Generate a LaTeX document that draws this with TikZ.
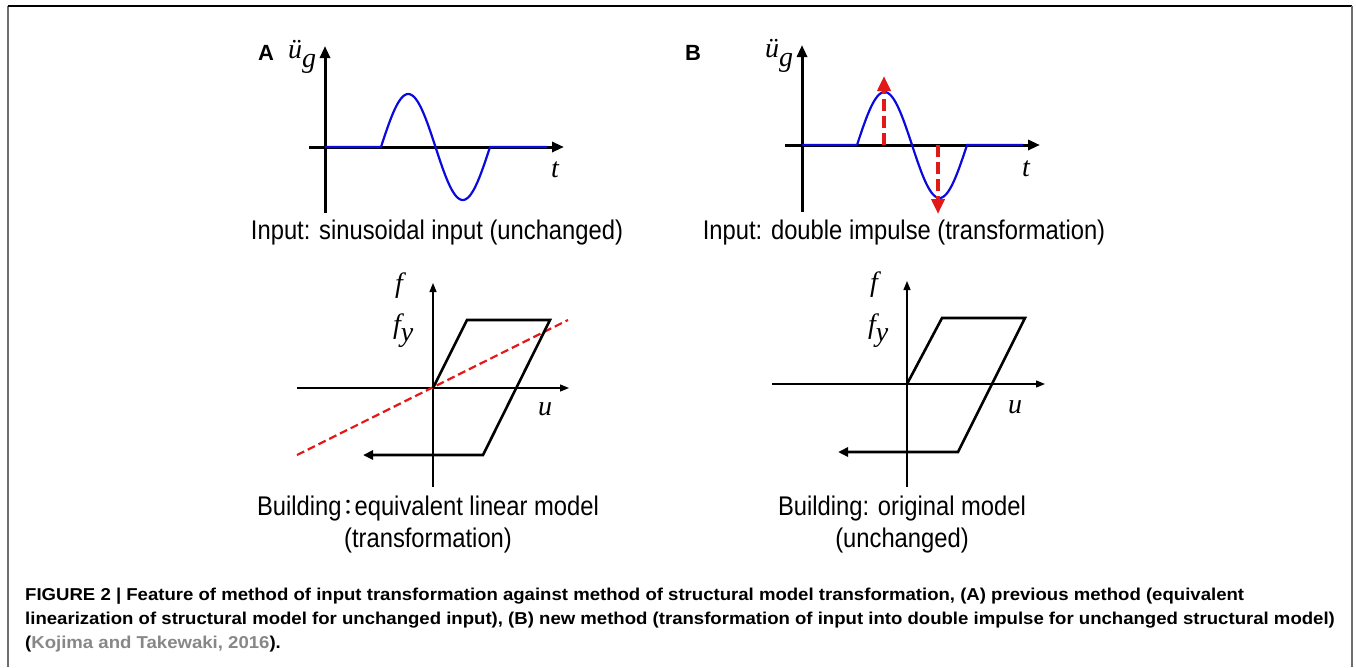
\documentclass[tikz,border=0pt]{standalone}
\usepackage{fontspec}
\setmainfont{Liberation Sans}
\newfontfamily\narrowfont[FakeStretch=0.88]{Liberation Sans}
\newfontfamily\capfont[FakeStretch=1.08]{Liberation Sans}
\newfontfamily\timesfont{Liberation Serif}
\newfontfamily\cjkfont{Noto Sans CJK JP}
\usepackage{tikz}
\usetikzlibrary{arrows.meta, positioning, calc}
\definecolor{waveblue}{RGB}{10,10,220}
\definecolor{impred}{RGB}{225,25,25}
\definecolor{citegray}{RGB}{135,135,135}
\definecolor{framegray}{RGB}{110,110,110}
\tikzstyle{axis} = [line width=3pt, -{Triangle[length=12pt, width=10pt]}]
\tikzstyle{faxis} = [line width=1.3pt, -{Triangle[length=9pt, width=7pt]}]
\tikzstyle{wave} = [line width=2.2pt, draw=waveblue]
\tikzstyle{impulse} = [line width=4.5pt, draw=impred, dash pattern=on 12pt off 5pt,
    -{Triangle[length=15pt, width=13pt, fill=impred]}]
\tikzstyle{loopline} = [line width=2.6pt, line join=miter, -{Triangle[length=10pt, width=9pt]}]
\tikzstyle{eqline} = [line width=2.2pt, draw=impred, dash pattern=on 8pt off 4pt]
\tikzstyle{plabel} = [anchor=base, inner sep=0pt, align=center,
    font=\narrowfont\fontsize{27}{32}\selectfont]
\tikzstyle{sym} = [anchor=base west, inner sep=0pt, font=\timesfont\itshape\fontsize{28}{30}\selectfont]
\tikzstyle{tag} = [anchor=base west, inner sep=0pt, font=\bfseries\fontsize{22}{24}\selectfont]
\tikzstyle{caption} = [anchor=base west, inner sep=0pt,
    font=\capfont\bfseries\fontsize{17.2}{20}\selectfont]
\newcommand{\accg}{\fontsize{28}{30}\selectfont\"u\raisebox{-9pt}{g}}
\newcommand{\fyield}{f\raisebox{-8pt}{y}}
\newcommand{\widecolon}{{\cjkfont\fontsize{22}{22}\selectfont\hspace{-4pt}：\hspace{-5pt}}}

\begin{document}
\begin{tikzpicture}[x=1pt, y=-1pt]
        \useasboundingbox (0,0) rectangle (1356,667);

        % Frame
        \draw[framegray, line width=1.5pt] (8,667) -- (8,6);
        \draw[black, line width=1.5pt] (8,6) -- (1352,6);
        \draw[framegray, line width=1.5pt] (1352,6) -- (1352,667);

        % Input A
        \coordinate (oA) at (325,147);
        \node[tag] (tagA) at (258,60) {A};
        \node[sym] (ugA) at (288,58) {\accg};
        \draw[axis] (325,213) -- (325,46);
        \draw[axis] (309,147) -- (564,147);
        \draw[wave] (oA) -- (381,147)
            -- plot[domain=0:360, samples=72] ({381+\x/360*109}, {147-53*sin(\x)})
            -- (547,147);
        \node[sym] (tA) at (551,177) {t};
        \node[plabel] (inA) at (437,239) {Input: sinusoidal input (unchanged)};

        % Input B
        \coordinate (oB) at (802,145);
        \node[tag] (tagB) at (685,60) {B};
        \node[sym] (ugB) at (765,57) {\accg};
        \draw[axis] (802,212) -- (802,45);
        \draw[axis] (785,145) -- (1040,145);
        \draw[wave] (oB) -- (857,145)
            -- plot[domain=0:360, samples=72] ({857+\x/360*110}, {145-53*sin(\x)})
            -- (1023,145);
        \draw[impulse] (884,145) -- (884,76);
        \draw[impulse] (938,145) -- (938,214);
        \node[sym] (tB) at (1022,176) {t};
        \node[plabel] (inB) at (904,239) {Input: double impulse (transformation)};

        % Building A
        \coordinate (hA) at (433,388);
        \draw[faxis] (433,487) -- (433,283);
        \draw[faxis] (297,388) -- (569,388);
        \draw[eqline] (297,455) -- (568,320);
        \draw[loopline] (hA) -- (467,320) -- (550,320) -- (483,455) -- (363,455);
        \node[sym] (fA) at (395,292) {f};
        \node[sym] (fyA) at (393,333) {\fyield};
        \node[sym] (uA) at (538,415) {u};
        \node[plabel] (bA) at (428,547)
            {Building\widecolon equivalent linear model\\(transformation)};

        % Building B
        \coordinate (hB) at (907,384);
        \draw[faxis] (907,487) -- (907,281);
        \draw[faxis] (772,384) -- (1045,384);
        \draw[loopline] (hB) -- (942,318) -- (1025,318) -- (958,452) -- (838,452);
        \node[sym] (fB) at (870,291) {f};
        \node[sym] (fyB) at (868,333) {\fyield};
        \node[sym] (uB) at (1008,413) {u};
        \node[plabel] (bB) at (902,547) {Building: original model\\(unchanged)};

        % Caption
        \node[caption] (cap1) at (25,600)
            {FIGURE 2 | Feature of method of input transformation against method of structural model transformation, (A) previous method (equivalent};
        \node[caption] (cap2) at (25,624)
            {linearization of structural model for unchanged input), (B) new method (transformation of input into double impulse for unchanged structural model)};
        \node[caption] (cap3) at (25,648)
            {(\textcolor{citegray}{Kojima and Takewaki, 2016}).};
    \end{tikzpicture}
\end{document}
